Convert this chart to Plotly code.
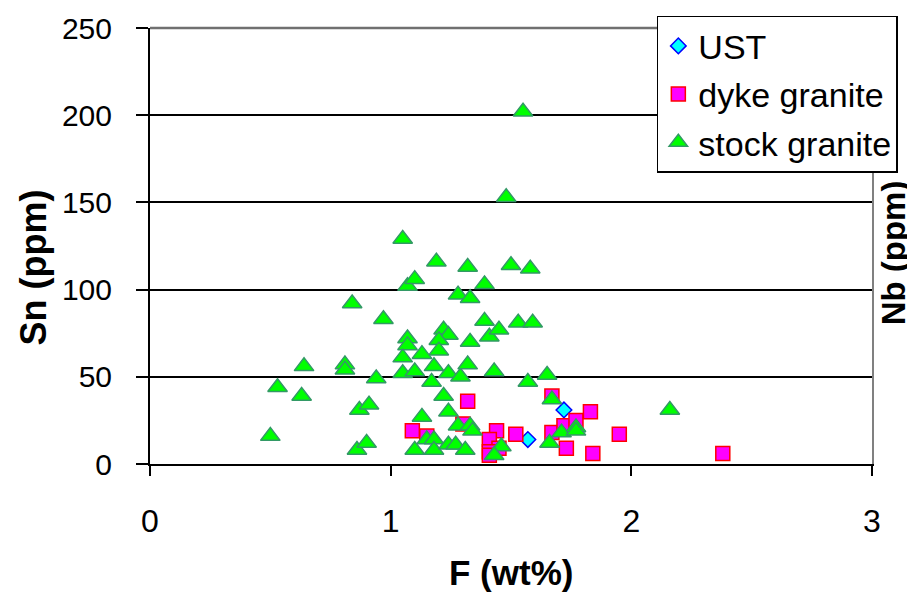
#=====================================================================
# F vs Sn scatter
#=====================================================================
import plotly.graph_objects as go

FONT = "Arial, Liberation Sans, sans-serif"

# UST
ust_f = [1.57, 1.72]
ust_sn = [14, 31]

# dyke granite
dyke_f = [1.32, 1.09, 1.15, 1.30, 1.44, 1.52, 1.41, 1.45, 1.41, 1.41,
          1.67, 1.67, 1.72, 1.77, 1.83, 1.73, 1.84, 1.95, 2.38]
dyke_sn = [36, 19, 16, 23, 19, 17, 14, 9, 7, 5,
           39, 18, 22, 25, 30, 9, 6, 17, 6]

# stock granite
stock_f = [0.50, 0.53, 0.63, 0.64, 0.81, 0.81, 0.84, 0.86, 0.87, 0.90,
           0.91, 0.94, 0.97, 1.05, 1.07, 1.10, 1.19, 1.32, 1.50, 1.58,
           1.48, 1.55, 1.28, 1.33, 1.39, 1.22, 1.24, 1.20, 1.20, 1.07,
           1.07, 1.05, 1.05, 1.10, 1.13, 1.18, 1.17, 1.24, 1.29, 1.33,
           1.32, 1.39, 1.41, 1.45, 1.53, 1.59, 1.43, 1.57, 1.65, 1.67,
           2.16, 1.22, 1.24, 1.13, 1.28, 1.33, 1.34, 1.15, 1.18, 1.10,
           1.18, 1.24, 1.27, 1.31, 1.46, 1.43, 1.66, 1.71, 1.77, 1.77]
stock_sn = [16, 44, 39, 56, 57, 54, 92, 8, 31, 12,
            34, 49, 83, 129, 102, 106, 116, 113, 114, 112,
            153, 202, 97, 95, 103, 77, 74, 71, 65, 72,
            68, 61, 52, 53, 63, 56, 47, 52, 50, 70,
            57, 82, 73, 77, 81, 81, 53, 47, 51, 37,
            31, 39, 30, 27, 22, 22, 19, 14, 14, 8,
            8, 11, 11, 8, 10, 5, 12, 18, 21, 19]

x_ticks = [0, 1, 2, 3]
y_ticks = [0, 50, 100, 150, 200, 250]

fig = go.Figure()

fig.add_trace(go.Scatter(
    x=ust_f, y=ust_sn, mode="markers", name="UST", legendgroup="a",
    marker=dict(symbol="diamond", size=12, color="#00FFFF",
                line=dict(color="#0000FF", width=1.5)),
))
fig.add_trace(go.Scatter(
    x=dyke_f, y=dyke_sn, mode="markers", name="dyke granite", legendgroup="b",
    marker=dict(symbol="square", size=14, color="#FF00FF",
                line=dict(color="#FF0000", width=1.5)),
))
fig.add_trace(go.Scatter(
    x=stock_f, y=stock_sn, mode="markers", name="stock granite", legendgroup="c",
    marker=dict(symbol="triangle-up", size=17, color="#00FF00",
                line=dict(color="#339966", width=1.5)),
))
# empty trace so the right (Nb) axis gets drawn
fig.add_trace(go.Scatter(x=[None], y=[None], yaxis="y2", showlegend=False,
                         hoverinfo="skip"))

fig.update_layout(
    width=907, height=587,
    margin=dict(l=142, r=43, t=20, b=131, autoexpand=False),
    paper_bgcolor="white", plot_bgcolor="white",
    font=dict(family=FONT, color="black"),
    showlegend=True,
    legend=dict(
        x=0.702, y=1.028, xanchor="left", yanchor="top",
        bgcolor="white", bordercolor="black", borderwidth=1.5,
        font=dict(size=34, family=FONT), tracegroupgap=1,
    ),
    xaxis=dict(
        range=[0, 3], tickvals=x_ticks, showgrid=False, zeroline=False,
        showline=True, linecolor="black", linewidth=2,
        ticks="outside", ticklen=10, tickwidth=1.5, tickcolor="black",
        tickfont=dict(size=32), ticklabelstandoff=18,
    ),
    yaxis=dict(
        range=[0, 250], tickvals=y_ticks, showgrid=True,
        gridcolor="black", gridwidth=1.5, zeroline=False,
        showline=True, linecolor="black", linewidth=2,
        ticks="outside", ticklen=12, tickwidth=1.5, tickcolor="black",
        tickfont=dict(size=30), ticklabelstandoff=18,
    ),
    yaxis2=dict(
        range=[0, 250], overlaying="y", side="right", showgrid=False,
        zeroline=False, showticklabels=False, showline=True,
        linecolor="#808080", linewidth=2,
    ),
    shapes=[dict(type="line", xref="paper", yref="paper", x0=0, x1=1,
                 y0=1, y1=1, line=dict(color="#707070", width=2.5))],
    annotations=[
        dict(text="<b>Sn (ppm)</b>", xref="paper", yref="paper",
             x=-0.162, y=0.451, xanchor="center", yanchor="middle",
             textangle=-90, showarrow=False, font=dict(size=36)),
        dict(text="<b>Nb (ppm)</b>", xref="paper", yref="paper",
             x=1.031, y=0.484, xanchor="center", yanchor="middle",
             textangle=-90, showarrow=False, font=dict(size=33)),
        dict(text="<b>F (wt%)</b>", xref="paper", yref="paper",
             x=0.5, y=-0.248, xanchor="center", yanchor="middle",
             showarrow=False, font=dict(size=35)),
    ],
)

fig.write_html("out.html")
